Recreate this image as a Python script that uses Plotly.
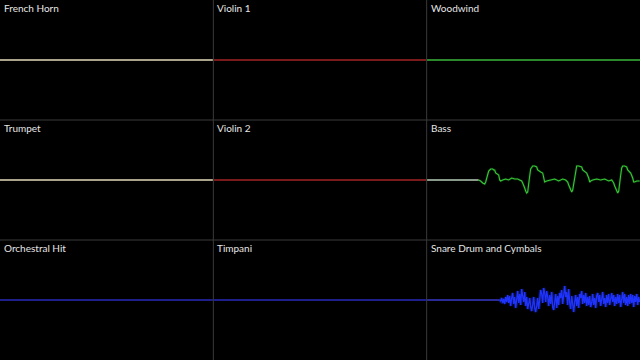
import plotly.graph_objects as go
from plotly.subplots import make_subplots

# ---- data ----
titles = ["French Horn", "Violin 1", "Woodwind",
          "Trumpet", "Violin 2", "Bass",
          "Orchestral Hit", "Timpani", "Snare Drum and Cymbals"]
line_colors = ["#aaa48a", "#7a1a1a", "#2a8a2a",
               "#aaa48a", "#7a1a1a", "#36c936",
               "#1e1e8c", "#1e1e8c", "#1f33ff"]

flat_x = [0, 213.3]
flat_y = [0, 0]

# Bass waveform (x = sample position within panel, y = amplitude)
bass_lead_x = [0, 52]
bass_lead_y = [0, 0]
bass_x = [52, 54, 56, 57, 58, 59, 60, 61, 62, 64, 66, 67, 68, 69, 70, 71, 72, 73, 74, 76,
          79, 82, 85, 88, 91, 93,
          95, 96, 97, 98, 99, 100, 101, 102, 103, 104, 106, 108, 109, 110, 111, 112, 114, 116, 117, 118, 120,
          124, 128, 132, 136, 139,
          141, 142, 143, 144, 145, 146, 147, 148, 149, 150, 152, 154, 155, 156, 157, 158, 160, 162, 163, 164, 166,
          170, 174, 178, 182, 185,
          187, 188, 189, 190, 191, 192, 193, 194, 195, 196, 198, 200, 201, 202, 203, 204, 206, 207, 208, 210, 213]
bass_y = [0, -1, -3, -4, -4, -2, 2, 6, 9, 11, 11, 10, 10, 7, 6, 6, 5, 0, -1, 0,
          1, 0, 2, 1, 1, 0,
          -1, -3, -5, -8, -11, -13, -12, -6, 4, 11, 14, 14, 13, 13, 10, 9, 8, 7, 0, -2, -1,
          0, 1, -1, 1, 0,
          -2, -5, -8, -11, -12, -10, -4, 5, 11, 14, 14, 13, 13, 10, 9, 8, 7, 2, -2, -1, 0,
          1, 0, 1, -1, 0,
          -3, -6, -9, -12, -13, -11, -5, 5, 12, 14, 14, 13, 10, 9, 8, 7, 2, -2, -2, -1, -1]

# Snare drum & cymbals
snare_lead_x = [0, 73]
snare_lead_y = [0, 0]
snare_start = 73
snare_y = [0, -1, 2, -3, 1, -4, 3, -2, 5, -3,
           4, -6, 2, 7, -4, 3, -8, 5, 9, -3,
           6, -5, 11, 4, -2, 8, -6, 3, -9, -4,
           2, -7, -11, -5, 3, -8, -12, -6, 2, -9,
           4, 10, 6, -3, 12, 7, -2, 9, 3, -6,
           5, -4, 8, -7, -10, -3, 6, -8, 4, -5,
           7, 2, 10, -4, 6, 14, 3, 8, -5, 11,
           -3, -9, 4, -7, -12, -2, 5, -6, 3, -8,
           6, 2, 9, -4, 5, -3, 7, -6, 3, -5,
           4, -7, -3, 6, -5, 2, -8, 4, 7, -2,
           5, -6, 3, 8, -4, 2, -7, 5, -3, 6,
           -5, 4, 7, -2, 5, -6, 3, -4, 6, -3,
           5, -7, 4, 8, -3, 6, -5, 3, -6, 5,
           -4, 6, -3, 5, -7, 4, -2, 6, -5, 3, -2]
snare_x = [snare_start + i for i in range(len(snare_y))]

# ---- figure ----
fig = make_subplots(rows=3, cols=3, horizontal_spacing=0, vertical_spacing=0)

for i, t in enumerate(titles):
    r, c = i // 3 + 1, i % 3 + 1
    if t == "Bass":
        fig.add_trace(go.Scatter(x=bass_lead_x, y=bass_lead_y, mode="lines",
                                 line=dict(color="#8a9a8a", width=2)), row=r, col=c)
        fig.add_trace(go.Scatter(x=bass_x, y=bass_y, mode="lines",
                                 line=dict(color="rgba(54,201,54,0.18)", width=2.5)), row=r, col=c)
        fig.add_trace(go.Scatter(x=bass_x, y=bass_y, mode="lines",
                                 line=dict(color=line_colors[i], width=1.1)), row=r, col=c)
    elif t == "Snare Drum and Cymbals":
        fig.add_trace(go.Scatter(x=snare_lead_x, y=snare_lead_y, mode="lines",
                                 line=dict(color="#2a2a96", width=2)), row=r, col=c)
        fig.add_trace(go.Scatter(x=snare_x, y=snare_y, mode="lines",
                                 line=dict(color="rgba(31,51,255,0.35)", width=3.5)), row=r, col=c)
        fig.add_trace(go.Scatter(x=snare_x, y=snare_y, mode="lines",
                                 line=dict(color=line_colors[i], width=1.3)), row=r, col=c)
    else:
        fig.add_trace(go.Scatter(x=flat_x, y=flat_y, mode="lines",
                                 line=dict(color=line_colors[i], width=2)), row=r, col=c)

fig.update_xaxes(range=[0, 213.3], visible=False, fixedrange=True)
fig.update_yaxes(range=[-60, 60], visible=False, fixedrange=True)

shapes = []
for k in (1, 2):
    shapes.append(dict(type="line", xref="paper", yref="paper", x0=k / 3, x1=k / 3,
                       y0=0, y1=1, line=dict(color="#3a3a3a", width=1)))
    shapes.append(dict(type="line", xref="paper", yref="paper", y0=k / 3, y1=k / 3,
                       x0=0, x1=1, line=dict(color="#3a3a3a", width=1)))

annotations = []
for i, t in enumerate(titles):
    r, c = i // 3, i % 3
    annotations.append(dict(text=t, xref="paper", yref="paper",
                            x=c / 3 + 2 / 640, y=1 - r / 3,
                            xanchor="left", yanchor="top", showarrow=False,
                            font=dict(family="Lato", size=10, color="#e6e6e6")))

fig.update_layout(width=640, height=360, margin=dict(l=0, r=0, t=0, b=0),
                  paper_bgcolor="black", plot_bgcolor="black",
                  showlegend=False, shapes=shapes, annotations=annotations)

fig.write_html("out.html")
